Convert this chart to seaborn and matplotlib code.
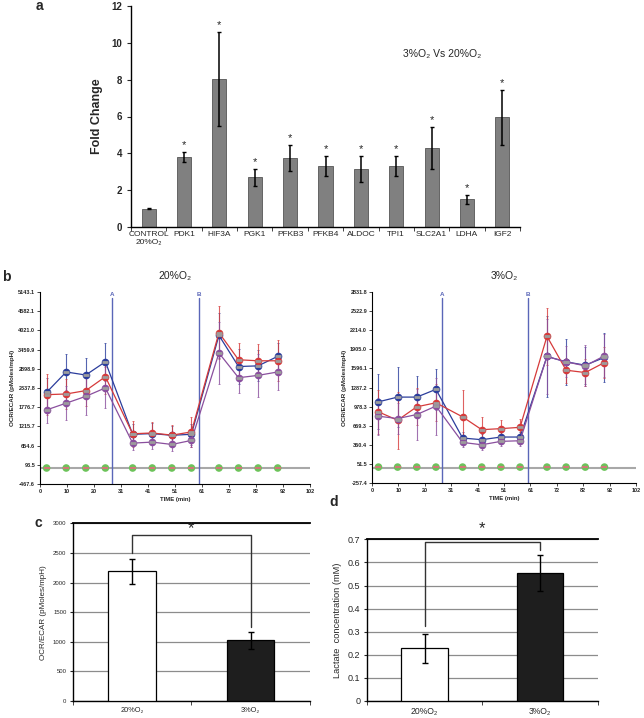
import numpy as np
import pandas as pd
import seaborn as sns
import matplotlib.pyplot as plt
from matplotlib.ticker import FixedLocator

sns.set_style('white')
plt.rcParams['font.family'] = ['Liberation Sans', 'DejaVu Sans']

# panel a - gene expression
genes = ['CONTROL\n20%O₂', 'PDK1', 'HIF3A', 'PGK1', 'PFKB3', 'PFKB4', 'ALDOC',
         'TPI1', 'SLC2A1', 'LDHA', 'IGF2']
fold = [1.0, 3.8, 8.05, 2.7, 3.75, 3.3, 3.15, 3.3, 4.3, 1.5, 5.95]
fold_err = [0.03, 0.25, 2.55, 0.45, 0.7, 0.55, 0.7, 0.55, 1.15, 0.23, 1.5]
signif = [False] + [True] * 10

# panel b - seahorse traces
times = [2.5, 9.9, 17.3, 24.7, 35.0, 42.4, 49.8, 57.2, 67.6, 75.0, 82.4, 89.8]
xtick_lab = ['0', '10', '20', '31', '41', '51', '61', '72', '82', '92', '102']
inj_A = 27.2
inj_B = 60.1

hi_blue = [2212, 2806, 2717, 3104, 985, 1005, 955, 985, 3876, 2965, 2985, 3262]
hi_red = [2143, 2163, 2262, 2668, 1000, 1024, 960, 1054, 3955, 3163, 3133, 3133]
hi_purple = [1698, 1895, 2094, 2341, 727, 757, 688, 806, 3361, 2638, 2707, 2806]
hi_blue_err = [430, 530, 500, 560, 300, 300, 280, 300, 650, 500, 450, 380]
hi_red_err = [600, 450, 450, 500, 380, 330, 300, 450, 780, 480, 480, 600]
hi_purple_err = [370, 500, 550, 600, 200, 200, 180, 200, 900, 450, 620, 520]
hi_yticks = ['-467.6', '93.5', '654.6', '1215.7', '1776.7', '2337.8', '2898.9',
             '3459.9', '4021.0', '4582.1', '5143.1']

lo_blue = [1056, 1132, 1132, 1257, 470, 443, 486, 486, 1789, 1702, 1648, 1773]
lo_red = [893, 758, 975, 1040, 812, 605, 622, 643, 2115, 1567, 1529, 1691]
lo_purple = [823, 785, 850, 986, 399, 361, 416, 426, 1789, 1702, 1637, 1800]
lo_blue_err = [445, 480, 340, 330, 100, 90, 80, 80, 650, 370, 300, 400]
lo_red_err = [360, 460, 300, 300, 430, 200, 140, 130, 460, 200, 220, 250]
lo_purple_err = [300, 250, 420, 460, 80, 80, 80, 80, 600, 250, 330, 350]
lo_yticks = ['-257.4', '51.5', '360.4', '669.3', '978.3', '1287.2', '1596.1',
             '1905.0', '2214.0', '2522.9', '2831.8']

# panel c / d
conds = ['20%O₂', '3%O₂']
ocr_ecar = [2190, 1025]
ocr_ecar_err = [215, 140]
lactate = [0.228, 0.553]
lactate_err = [0.063, 0.077]

fig = plt.figure(figsize=(6.44, 7.18), dpi=100)

# ---------------- a ----------------
axA = fig.add_axes([131/644, 1-227/718, 389/644, 221/718])
sns.barplot(x=list(range(len(genes))), y=fold, color='#808080', width=0.4,
            saturation=1, edgecolor='#555555', linewidth=0.6, ax=axA)
axA.errorbar(range(len(genes)), fold, yerr=fold_err, fmt='none', ecolor='black',
             elinewidth=1.1, capsize=1.5, capthick=1)
for i, (v, e, s) in enumerate(zip(fold, fold_err, signif)):
    if s:
        axA.text(i, v + e + 0.1, '*', ha='center', va='bottom', fontsize=8)
axA.set_xlim(-0.5, len(genes) - 0.5)
axA.set_ylim(0, 12)
axA.set_yticks(range(0, 13, 2))
axA.set_yticklabels([str(t) for t in range(0, 13, 2)], fontsize=7, fontweight='bold')
axA.set_xticks(range(len(genes)))
axA.set_xticklabels(genes, fontsize=6)
axA.xaxis.set_minor_locator(FixedLocator(np.arange(-0.5, len(genes), 1)))
axA.tick_params(axis='x', which='major', length=0, pad=3)
axA.tick_params(axis='x', which='minor', length=3, direction='out', bottom=True)
axA.tick_params(axis='y', length=3, direction='out', left=True)
axA.set_ylabel('Fold Change', fontsize=9, fontweight='bold', labelpad=6)
for sp in ['top', 'right']:
    axA.spines[sp].set_visible(False)
for sp in ['left', 'bottom']:
    axA.spines[sp].set_color('black')
    axA.spines[sp].set_linewidth(1)
axA.text((442 - 131) / 389, 1 - 48/221, '3%O₂ Vs 20%O₂', transform=axA.transAxes,
         fontsize=7.5, ha='center', va='center')
fig.text(39/644, 1-6/718, 'a', fontsize=10, fontweight='bold', ha='center', va='center')


# ---------------- b ----------------
def seahorse(ax, blue, red, purple, berr, rerr, perr, yticks, title):
    cols = {'blue': '#2b3d9c', 'red': '#d63a3a', 'purple': '#8a4f9e'}
    df = pd.DataFrame({'time': times * 3,
                       'value': blue + red + purple,
                       'series': ['blue'] * 12 + ['red'] * 12 + ['purple'] * 12})
    for name, vals, err in [('blue', blue, berr), ('red', red, rerr), ('purple', purple, perr)]:
        ax.errorbar(times, vals, yerr=err, fmt='none', ecolor=cols[name], alpha=0.8,
                    elinewidth=0.8, capsize=1, capthick=0.6, zorder=2)
    lo, hi = float(yticks[0]), float(yticks[-1])
    ax.axhline(-10, color='#a8a8a8', lw=1.5, zorder=1)
    sns.lineplot(data=df, x='time', y='value', hue='series', palette=cols,
                 marker='o', markersize=5.5, markeredgewidth=0, linewidth=0.9,
                 legend=False, ax=ax, zorder=3)
    ax.plot(times * 3, blue + red + purple, ls='none', marker='_', ms=4, mew=2,
            color='#9c9c9c', zorder=4)
    sns.scatterplot(x=times, y=[0] * 12, color='#6cc35a', s=30, edgecolor='none',
                    ax=ax, zorder=3)
    ax.plot(times, [0] * 12, ls='none', marker='_', ms=4, mew=1.5, color='#d07878', zorder=4)
    for t, lab in [(inj_A, 'A'), (inj_B, 'B')]:
        ax.axvline(t, ymin=0, ymax=0.968, color='#5a66b8', lw=1, zorder=2)
        ax.text(t, lo + (hi - lo) * 0.985, lab, color='#5a66b8', fontsize=4.5,
                fontweight='bold', ha='center', va='center')
    ax.set_xlim(0, 102)
    ax.set_ylim(lo, hi)
    ax.set_xticks([i * 10.2 for i in range(11)])
    ax.set_xticklabels(xtick_lab, fontsize=4, fontweight='bold')
    ax.set_yticks([float(t) for t in yticks])
    ax.set_yticklabels(yticks, fontsize=4, fontweight='bold')
    ax.tick_params(length=2, width=0.6, direction='out', left=True, bottom=True, pad=1.5)
    ax.set_xlabel('TIME (min)', fontsize=4.3, fontweight='bold', labelpad=2)
    ax.set_ylabel('OCR/ECAR (pMoles/mpH)', fontsize=4.5, fontweight='bold', labelpad=2)
    for sp in ['top', 'right']:
        ax.spines[sp].set_visible(False)
    for sp in ['left', 'bottom']:
        ax.spines[sp].set_color('black')
        ax.spines[sp].set_linewidth(0.8)
    ax.text(0.5, 1.085, title, transform=ax.transAxes, fontsize=7.5,
            ha='center', va='center')


axB1 = fig.add_axes([40/644, 1-484/718, 270/644, 192/718])
seahorse(axB1, hi_blue, hi_red, hi_purple, hi_blue_err, hi_red_err, hi_purple_err,
         hi_yticks, '20%O₂')
axB2 = fig.add_axes([372/644, 1-483/718, 264/644, 191/718])
seahorse(axB2, lo_blue, lo_red, lo_purple, lo_blue_err, lo_red_err, lo_purple_err,
         lo_yticks, '3%O₂')
fig.text(6/644, 1-277/718, 'b', fontsize=10, fontweight='bold', ha='center', va='center')


# ---------------- c / d ----------------
def two_bars(ax, vals, errs, ymax, step, tick_fs, lab_fs, ylabel, bracket, star_y, fmt):
    sns.barplot(x=conds, y=vals, hue=conds, palette=['white', '#1e1e1e'], width=0.4,
                saturation=1, edgecolor='black', linewidth=0.9, legend=False, ax=ax,
                zorder=3)
    ax.errorbar([0, 1], vals, yerr=errs, fmt='none', ecolor='black', elinewidth=1,
                capsize=2, capthick=1, zorder=4)
    ax.plot([0, 0, 1, 1], bracket, color='#333333', lw=1, zorder=4)
    ax.text(0.5, star_y, '*', ha='center', va='center', fontsize=12, clip_on=False)
    ax.set_xlim(-0.5, 1.5)
    ax.set_ylim(0, ymax)
    ticks = np.round(np.arange(0, ymax + step / 2, step), 4)
    ax.set_yticks(ticks)
    ax.set_yticklabels([fmt(t) for t in ticks], fontsize=tick_fs)
    ax.yaxis.grid(True, color='#8c8c8c', lw=0.9)
    ax.set_axisbelow(True)
    ax.set_xticks([0, 1])
    ax.set_xticklabels(conds, fontsize=lab_fs)
    ax.xaxis.set_minor_locator(FixedLocator([-0.5, 0.5, 1.5]))
    ax.tick_params(axis='x', which='major', length=0, pad=4)
    ax.tick_params(axis='x', which='minor', length=3, direction='out', bottom=True)
    ax.tick_params(axis='y', length=2.5, direction='out', left=True, pad=2)
    ax.set_ylabel(ylabel, fontsize=lab_fs + 0.5)
    ax.set_xlabel('')
    ax.spines['right'].set_visible(False)
    for sp in ['left', 'bottom', 'top']:
        ax.spines[sp].set_color('black')
        ax.spines[sp].set_linewidth(1)
    ax.spines['top'].set_linewidth(1.3)


axC = fig.add_axes([72.7/644, 1-701/718, 237.3/644, 177.7/718])
two_bars(axC, ocr_ecar, ocr_ecar_err, 3000, 500, 4.3, 5.3, 'OCR/ECAR (pMoles/mpH)',
         [2500, 2810, 2810, 1255], 2915, lambda t: str(int(t)))
fig.text(38/644, 1-523/718, 'c', fontsize=10, fontweight='bold', ha='center', va='center')

axD = fig.add_axes([366.7/644, 1-701/718, 231.3/644, 161.7/718])
two_bars(axD, lactate, lactate_err, 0.7, 0.1, 6.5, 6.2, 'Lactate  concentration (mM)',
         [0.325, 0.69, 0.69, 0.653], 0.745, lambda t: '0' if t == 0 else f'{t:g}')
fig.text(334/644, 1-502/718, 'd', fontsize=10, fontweight='bold', ha='center', va='center')

fig.savefig('out.png', dpi=100)
